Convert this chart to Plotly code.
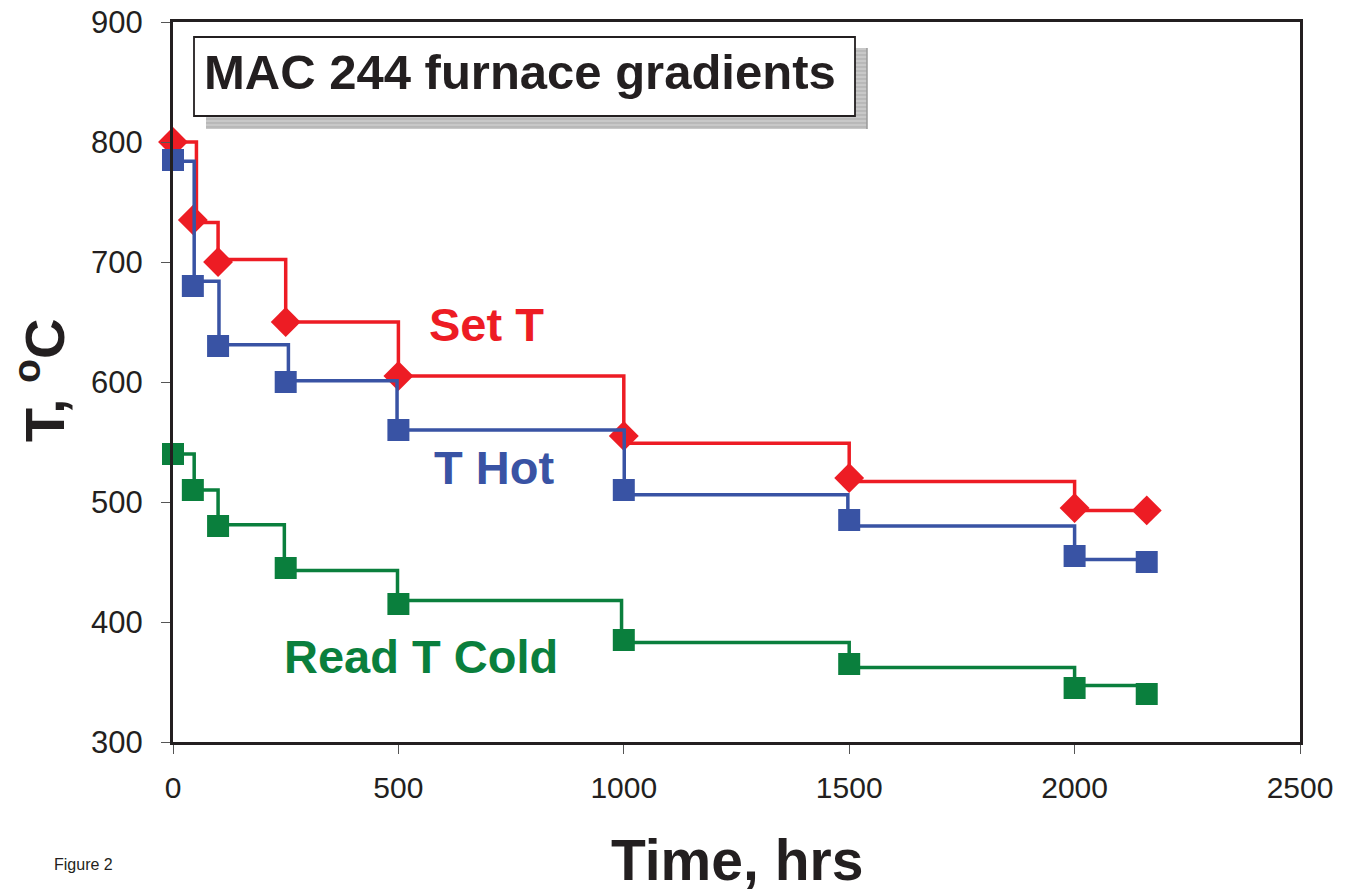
import plotly.graph_objects as go

# Furnace temperature steps over time (hours, deg C)
time_pts = [0, 44, 100, 250, 500, 1000, 1500, 2000, 2160]
set_t = [800, 735, 700, 650, 605, 555, 520, 495, 493]
t_hot = [785, 680, 630, 600, 560, 510, 485, 455, 450]
t_cold = [540, 510, 480, 445, 415, 385, 365, 345, 340]

# Recorded step profiles (time at which each level changes, level held)
set_step_t = [0, 52, 100, 250, 500, 1000, 1500, 2000, 2160]
set_step_v = [800, 733, 702, 650, 605, 549, 517, 493, 493]
hot_step_t = [0, 47, 102, 256, 497, 1001, 1497, 2000, 2160]
hot_step_v = [784, 684, 631, 601, 560, 506, 480, 452, 452]
cold_step_t = [0, 47, 100, 247, 498, 995, 1500, 2000, 2160]
cold_step_v = [540, 510, 481, 443, 418, 383, 362, 347, 347]

RED = "#ED1C24"
BLUE = "#3953A4"
GREEN = "#0A7F3D"
INK = "#231F20"

W, H = 1351, 896
L, R, T, B = 173, 1300, 22, 742
X0, X1, Y0, Y1 = 0, 2500, 300, 900


def px_x(px):
    return X0 + (px - L) * (X1 - X0) / (R - L)


def px_y(py):
    return Y1 - (py - T) * (Y1 - Y0) / (B - T)


def paper_x(px):
    return (px - L) / (R - L)


def paper_y(py):
    return (B - py) / (B - T)


fig = go.Figure()


def add_series(step_t, step_v, mx, my, color, symbol, size):
    fig.add_trace(go.Scatter(
        x=step_t, y=step_v, mode="lines",
        line=dict(color=color, width=3.5, shape="hv"),
        hoverinfo="skip", showlegend=False,
    ))
    fig.add_trace(go.Scatter(
        x=mx, y=my, mode="markers", cliponaxis=False,
        marker=dict(color=color, symbol=symbol, size=size, line=dict(width=0)),
        showlegend=False,
    ))


add_series(set_step_t, set_step_v, time_pts, set_t, RED, "diamond", 23)
add_series(hot_step_t, hot_step_v, time_pts, t_hot, BLUE, "square", 22)
add_series(cold_step_t, cold_step_v, time_pts, t_cold, GREEN, "square", 22)

shapes = []
# title box shadow with fine horizontal hatching
sx0, sx1, sy0, sy1 = 206, 867, 48, 129
shapes.append(dict(type="rect", xref="x", yref="y", layer="above",
                   x0=px_x(sx0), x1=px_x(sx1), y0=px_y(sy1), y1=px_y(sy0),
                   fillcolor="#C8C8C8", line=dict(width=0)))
yy = sy0 + 3
while yy < sy1:
    shapes.append(dict(type="line", xref="x", yref="y", layer="above",
                       x0=px_x(sx0), x1=px_x(sx1), y0=px_y(yy), y1=px_y(yy),
                       line=dict(color="#A9A9A9", width=1)))
    yy += 4
shapes.append(dict(type="line", xref="x", yref="y", layer="above",
                   x0=px_x(sx1), x1=px_x(sx1), y0=px_y(sy1), y1=px_y(sy0),
                   line=dict(color="#9A9A9A", width=1.5)))
# title box
shapes.append(dict(type="rect", xref="x", yref="y", layer="above",
                   x0=px_x(194), x1=px_x(855), y0=px_y(116), y1=px_y(37),
                   fillcolor="white", line=dict(color=INK, width=1.8)))

arial = "Liberation Sans, Arial, sans-serif"


def label(text, px, py, size, color, **kw):
    return dict(text=text, x=paper_x(px), y=paper_y(py), xref="paper",
                yref="paper", showarrow=False, xanchor=kw.pop("xanchor", "center"),
                yanchor="middle", font=dict(family=arial, size=size, color=color),
                **kw)


annotations = [
    label("<b>MAC 244 furnace gradients</b>", 520, 72, 49, INK),
    label("<b>Set T</b>", 486, 325, 47, RED),
    label("<b>T Hot</b>", 494, 467, 47, BLUE),
    label("<b>Read T Cold</b>", 421, 656, 47, GREEN),
    label("<b>T, <sup>o</sup>C</b>", 40, 380, 56, INK, textangle=-90),
    label("<b>Time, hrs</b>", 737, 860, 57, INK),
    label("Figure 2", 52, 864, 16, INK, xanchor="left"),
]

fig.update_layout(
    width=W, height=H,
    margin=dict(l=L, r=W - R, t=T, b=H - B, pad=0, autoexpand=False),
    paper_bgcolor="white", plot_bgcolor="white",
    shapes=shapes, annotations=annotations,
    xaxis=dict(range=[X0, X1], tickvals=[0, 500, 1000, 1500, 2000, 2500],
               automargin=False,
               showgrid=False, zeroline=False, showline=True, linewidth=3,
               linecolor=INK, mirror=True, ticks="outside", ticklen=9,
               tickwidth=1, tickcolor="#555555", ticklabelstandoff=8,
               tickfont=dict(family=arial, size=30, color=INK)),
    yaxis=dict(range=[Y0, Y1], tickvals=[300, 400, 500, 600, 700, 800, 900],
               automargin=False,
               showgrid=False, zeroline=False, showline=True, linewidth=3,
               linecolor=INK, mirror=True, ticks="outside", ticklen=9,
               tickwidth=1, tickcolor="#555555", ticklabelstandoff=12,
               tickfont=dict(family=arial, size=31, color=INK)),
)

fig.write_html("out.html")
